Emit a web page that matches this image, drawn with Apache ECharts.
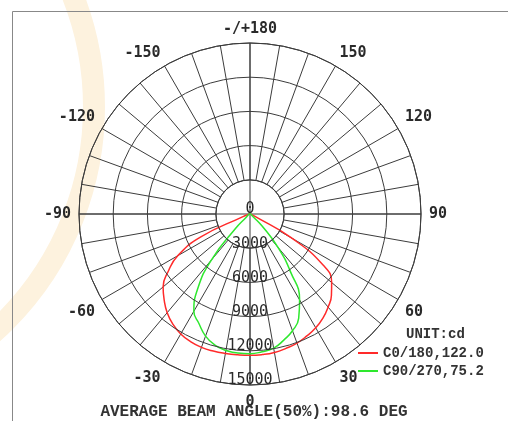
<!DOCTYPE html>
<html>
<head>
<meta charset="utf-8">
<script src="https://cdn.jsdelivr.net/npm/echarts@6/dist/echarts.min.js"></script>
<style>
html,body{margin:0;padding:0;background:#fff;}
#chart{width:508px;height:421px;}
</style>
</head>
<body>
<div id="chart"></div>
<script>
// Angles in degrees (gamma), 0 = straight down, positive to the right
const angles = [-90,-85,-80,-75,-70,-65,-60,-55,-50,-45,-40,-35,-30,-25,-20,-15,-10,-5,0,5,10,15,20,25,30,35,40,45,50,55,60,65,70,75,80,85,90];
// C0/180 plane intensities (cd)
const redValues = [0,50,100,200,600,4800,7300,8750,9950,10650,11300,11800,12150,12350,12450,12450,12420,12400,12400,12380,12330,12200,12050,11800,11530,11150,10660,10100,9350,7850,4200,400,150,100,50,0,0];
// C90/270 plane intensities (cd)
const greenValues = [0,0,50,100,100,150,200,250,400,1800,5300,8000,9850,10600,11400,11900,12150,12250,12250,12130,11950,11450,10900,10100,8700,6200,3800,1500,300,200,150,100,100,50,50,0,0];
const seriesNames = ['C0/180,122.0', 'C90/270,75.2'];
const radiusTicks = [0, 3000, 6000, 9000, 12000, 15000];
const unitText = 'UNIT:cd';
const footerText = 'AVERAGE BEAM ANGLE(50%):98.6 DEG';

const chart = echarts.init(document.getElementById('chart'));
const gridColor = '#3c3c3c';
const labelFont = { fontFamily: 'DejaVu Sans Mono', fontWeight: 'bold', fontSize: 15, color: '#2a2a2a' };
const option = {
  animation: false,
  backgroundColor: '#fff',
  graphic: [
    { type: 'circle', z: -10, silent: true, shape: { cx: -209, cy: 107, r: 303 },
      style: { fill: 'none', stroke: '#fdf2de', lineWidth: 22 } },
    { type: 'rect', z: -5, silent: true, shape: { x: 12.5, y: 11.5, width: 600, height: 500 },
      style: { fill: 'none', stroke: '#888', lineWidth: 1 } }
  ],
  title: [
    { text: unitText, left: 406, top: 327, padding: 0,
      textStyle: { fontFamily: 'Liberation Mono', fontSize: 14, fontWeight: 'bold', color: '#333' } },
    { text: footerText, left: 'center', top: 404, padding: 0,
      textStyle: { fontFamily: 'Liberation Mono', fontSize: 16, fontWeight: 'bold', color: '#333' } }
  ],
  legend: {
    orient: 'vertical', left: 358, top: 346, padding: 0,
    itemWidth: 20, itemHeight: 2, itemGap: 4, icon: 'rect',
    textStyle: { fontFamily: 'Liberation Mono', fontSize: 14, fontWeight: 'bold', color: '#333', lineHeight: 14 },
    data: seriesNames
  },
  polar: [
    { center: [250, 214], radius: [34, 171] },
    { center: [250, 214], radius: [0, 171] }
  ],
  angleAxis: [
    { polarIndex: 0, type: 'value', min: -180, max: 180, interval: 10, startAngle: 90, clockwise: false,
      axisLine: { show: true, lineStyle: { color: gridColor, width: 1 } },
      axisTick: { show: false },
      splitLine: { show: true, lineStyle: { color: gridColor, width: 1 } },
      axisLabel: Object.assign({ margin: 8,
        rich: {
          t: Object.assign({ lineHeight: 11 }, labelFont),
          m: Object.assign({ lineHeight: 15 }, labelFont),
          b: Object.assign({ lineHeight: 18 }, labelFont)
        },
        formatter: function (v) {
          if (v % 30 !== 0 || v === 180) return '';
          const s = v === -180 ? '-/+180' : String(v);
          const a = Math.abs(v);
          const k = a >= 150 ? 't' : (a >= 90 ? 'm' : 'b');
          return '{' + k + '|' + s + '}';
        } }, labelFont)
    },
    { polarIndex: 1, type: 'value', min: 0, max: 360, interval: 90, startAngle: 270, clockwise: false,
      axisLine: { show: false }, axisTick: { show: false }, axisLabel: { show: false },
      splitLine: { show: true, lineStyle: { color: gridColor, width: 1 } }
    }
  ],
  radiusAxis: [
    { polarIndex: 0, type: 'value', min: 0, max: 1, show: false },
    { polarIndex: 1, type: 'value', min: radiusTicks[0], max: radiusTicks[radiusTicks.length - 1],
      interval: radiusTicks[1] - radiusTicks[0], z: 5,
      axisLine: { show: false }, axisTick: { show: false },
      splitLine: { show: true, lineStyle: { color: gridColor, width: 1 } },
      axisLabel: { margin: 0, align: 'center', verticalAlign: 'bottom', fontFamily: 'DejaVu Sans Mono',
        fontSize: 15, color: '#2a2a2a', lineHeight: 9,
        formatter: function (v) { return String(v); } }
    }
  ],
  series: [
    { name: seriesNames[0], type: 'line', coordinateSystem: 'polar', polarIndex: 1,
      symbol: 'none', smooth: 0.5, clip: false, z: 3,
      lineStyle: { color: '#ff2a2a', width: 1.5 }, itemStyle: { color: '#ff2a2a' },
      data: angles.map((a, i) => [redValues[i], a]) },
    { name: seriesNames[1], type: 'line', coordinateSystem: 'polar', polarIndex: 1,
      symbol: 'none', smooth: 0.5, clip: false, z: 3,
      lineStyle: { color: '#2ee82e', width: 1.5 }, itemStyle: { color: '#2ee82e' },
      data: angles.map((a, i) => [greenValues[i], a]) }
  ]
};
chart.setOption(option);
</script>
</body>
</html>
